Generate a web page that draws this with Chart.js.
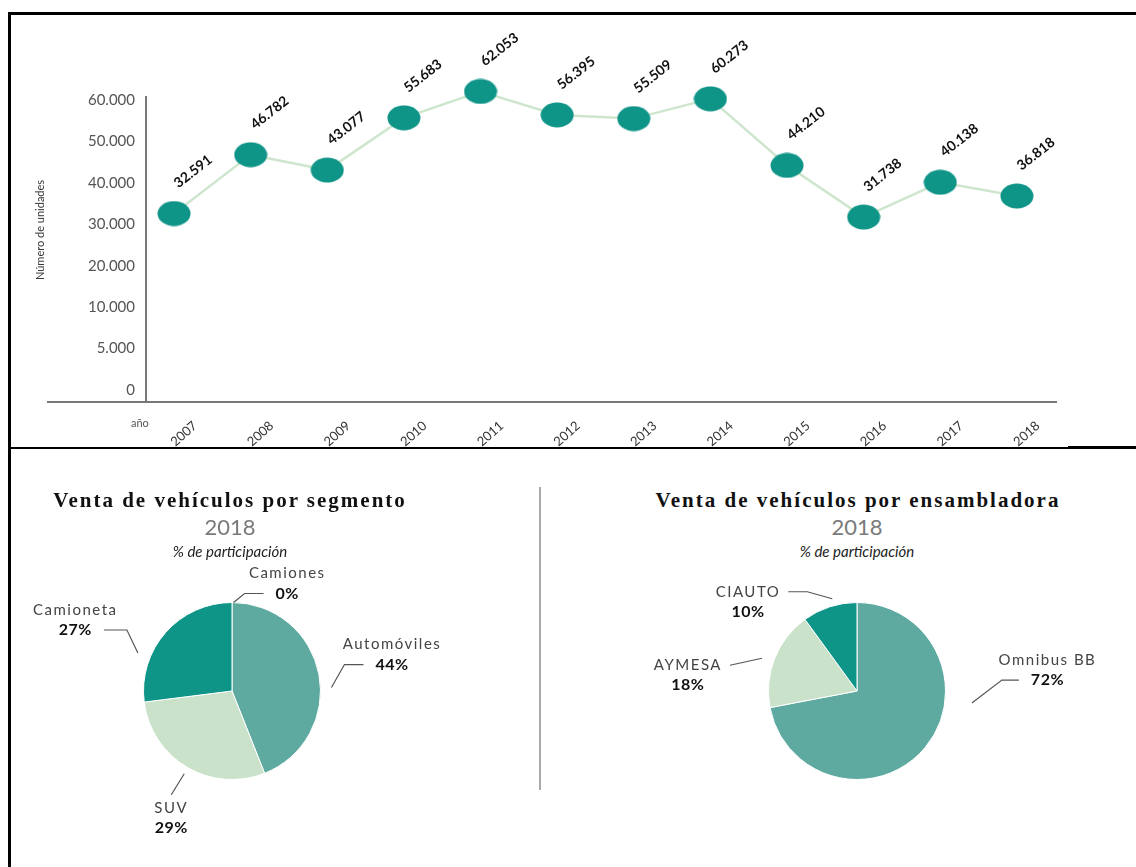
<!DOCTYPE html>
<html lang="es">
<head>
<meta charset="utf-8">
<title>Venta de vehículos</title>
<script src="https://cdn.jsdelivr.net/npm/chart.js@4.4.1/dist/chart.umd.min.js"></script>
<style>
  html, body { margin: 0; padding: 0; background: #fff; }
  body { width: 1136px; height: 867px; position: relative; overflow: hidden; font-family: Lato, sans-serif; }
  canvas { position: absolute; }
  .rule { position: absolute; background: #000; }
  .title { position: absolute; width: 440px; text-align: center; font-family: "Liberation Serif", serif; font-weight: bold; font-size: 21px; letter-spacing: 2px; color: #111; line-height: 24px; }
  .year { position: absolute; width: 440px; text-align: center; font-size: 22px; color: #7a7a7a; line-height: 24px; }
  .sub { position: absolute; width: 440px; text-align: center; font-style: italic; font-size: 15px; color: #222; line-height: 18px; }
  .note { position: absolute; font-size: 11px; color: #555; }
  .ytitle { position: absolute; width: 140px; text-align: center; font-size: 11px; color: #333; line-height: 14px; transform: rotate(-90deg); }
</style>
</head>
<body>
<canvas id="trend" width="1136" height="447" style="left:0;top:0"></canvas>
<canvas id="segment" width="436" height="290" style="left:14px;top:560px"></canvas>
<canvas id="assembler" width="514" height="290" style="left:600px;top:560px"></canvas>

<div class="rule" style="left:8px;top:12px;width:1128px;height:3px"></div>
<div class="rule" style="left:8px;top:12px;width:3px;height:855px"></div>
<div class="rule" style="left:8px;top:447px;width:1060px;height:2px"></div>
<div class="rule" style="left:1068px;top:446px;width:68px;height:3px"></div>
<div class="rule" style="left:539px;top:487px;width:1.5px;height:303px;background:#aaa"></div>

<div class="ytitle" style="left:-30px;top:223px">Número de unidades</div>
<div class="note" style="left:131px;top:416px">año</div>

<div class="title" style="left:10px;top:488px">Venta de vehículos por segmento</div>
<div class="year" style="left:10px;top:515px">2018</div>
<div class="sub" style="left:10px;top:542px">% de participación</div>

<div class="title" style="left:638px;top:488px">Venta de vehículos por ensambladora</div>
<div class="year" style="left:637px;top:515px">2018</div>
<div class="sub" style="left:637px;top:542px">% de participación</div>

<script>
const years = [2007, 2008, 2009, 2010, 2011, 2012, 2013, 2014, 2015, 2016, 2017, 2018];
const units = [32591, 46782, 43077, 55683, 62053, 56395, 55509, 60273, 44210, 31738, 40138, 36818];
const yTickValues = [0, 5000, 10000, 20000, 30000, 40000, 50000, 60000];

const segmentLabels = ['Automóviles', 'SUV', 'Camioneta', 'Camiones'];
const segmentShares = [44, 29, 27, 0];

const assemblerLabels = ['Omnibus BB', 'AYMESA', 'CIAUTO'];
const assemblerShares = [72, 18, 10];

const TEAL = '#0f9488';
const MID = '#5eaaa0';
const LIGHT = '#cae2c9';
const LINE = '#cfe6ce';
const AXIS = '#777';

const fmt = n => String(n).replace(/\B(?=(\d{3})+(?!\d))/g, '.');

// the y axis has evenly spaced ticks that are not evenly spaced in value,
// so values are placed piecewise between neighbouring ticks
function toSlot(v) {
  const t = yTickValues;
  for (let i = 0; i < t.length - 1; i++) {
    if (v <= t[i + 1]) return i + (v - t[i]) / (t[i + 1] - t[i]);
  }
  const n = t.length - 1;
  return n + (v - t[n]) / (t[n] - t[n - 1]);
}

// slightly flattened dots like the original
const dot = document.createElement('canvas');
dot.width = 34; dot.height = 26;
const dctx = dot.getContext('2d');
dctx.fillStyle = TEAL;
dctx.beginPath();
dctx.ellipse(17, 13, 16.5, 12.5, 0, 0, Math.PI * 2);
dctx.fill();

const valueLabels = {
  id: 'valueLabels',
  afterDatasetsDraw(chart) {
    const { ctx } = chart;
    const meta = chart.getDatasetMeta(0);
    ctx.save();
    ctx.font = 'bold 14px Lato';
    ctx.fillStyle = '#111';
    ctx.textAlign = 'center';
    ctx.textBaseline = 'middle';
    meta.data.forEach((pt, i) => {
      ctx.save();
      ctx.translate(pt.x + 19, pt.y - 42);
      ctx.rotate(-38 * Math.PI / 180);
      ctx.fillText(fmt(units[i]), 0, 0);
      ctx.restore();
    });
    ctx.restore();
  }
};

const axisStub = {
  id: 'axisStub',
  afterDraw(chart) {
    const { ctx, chartArea } = chart;
    ctx.save();
    ctx.strokeStyle = AXIS;
    ctx.lineWidth = 2;
    ctx.beginPath();
    ctx.moveTo(47, chartArea.bottom);
    ctx.lineTo(chartArea.left, chartArea.bottom);
    ctx.stroke();
    ctx.restore();
  }
};

new Chart(document.getElementById('trend'), {
  type: 'line',
  data: {
    datasets: [{
      data: years.map((y, i) => ({ x: y, y: toSlot(units[i]) })),
      borderColor: LINE,
      borderWidth: 2.5,
      pointStyle: dot,
      pointRadius: 15,
      pointHoverRadius: 15,
      tension: 0,
      clip: false
    }]
  },
  options: {
    responsive: false,
    animation: false,
    events: [],
    layout: { padding: { top: 97, right: 80, left: 0, bottom: 0 } },
    plugins: { legend: { display: false }, tooltip: { enabled: false } },
    scales: {
      x: {
        type: 'linear',
        min: 2006.634,
        max: 2018.51,
        afterBuildTicks: s => { s.ticks = years.map(v => ({ value: v })); },
        afterFit: s => { s.height = 45; },
        grid: { display: false, drawTicks: false },
        border: { color: AXIS, width: 2 },
        ticks: {
          callback: v => String(v),
          minRotation: 42, maxRotation: 42, autoSkip: false,
          labelOffset: 21, padding: 16,
          font: { family: 'Lato', size: 13 }, color: '#333'
        }
      },
      y: {
        min: -0.29,
        max: 7.072,
        afterBuildTicks: s => { s.ticks = yTickValues.map((_, i) => ({ value: i })); },
        afterFit: s => { s.width = 146; },
        grid: { display: false, drawTicks: false },
        border: { color: AXIS, width: 2 },
        ticks: {
          callback: v => fmt(yTickValues[Math.round(v)]),
          padding: 11,
          font: { family: 'Lato', size: 15 }, color: '#555'
        }
      }
    }
  },
  plugins: [valueLabels, axisStub]
});

// leader lines with name + share next to each slice
const callouts = {
  id: 'callouts',
  afterDraw(chart, args, opts) {
    const { ctx } = chart;
    const meta = chart.getDatasetMeta(0);
    const values = chart.data.datasets[0].data;
    const labels = chart.data.labels;
    ctx.save();
    meta.data.forEach((arc, i) => {
      const c = opts.items[i];
      const a = c.angle * Math.PI / 180;
      const r = arc.outerRadius + c.gap;
      const sx = arc.x + r * Math.sin(a);
      const sy = arc.y - r * Math.cos(a);
      const ex = sx + c.dx, ey = sy + c.dy;
      const fx = ex + c.len;
      ctx.strokeStyle = '#555';
      ctx.lineWidth = 1.2;
      ctx.beginPath();
      ctx.moveTo(sx, sy);
      ctx.lineTo(ex, ey);
      ctx.lineTo(fx, ey);
      ctx.stroke();

      const pct = values[i] + '%';
      ctx.font = 'bold 16px Lato';
      ctx.letterSpacing = '0.5px';
      const pw = ctx.measureText(pct).width;
      ctx.font = '15px Lato';
      ctx.letterSpacing = '1.5px';
      const nw = ctx.measureText(labels[i]).width;
      const side = (c.len || c.dx) < 0 ? -1 : 1;
      let cx, ny, py;
      if (c.anchor === 'pct') { cx = fx + side * (pw / 2 + 12); py = ey; ny = ey - 20; }
      else if (c.anchor === 'name') { cx = fx + side * (nw / 2 + 8); ny = ey; py = ey + 20; }
      else { cx = fx; ny = ey + 13; py = ey + 33; }

      ctx.textAlign = 'center';
      ctx.textBaseline = 'middle';
      ctx.fillStyle = '#444';
      ctx.fillText(labels[i], cx, ny);
      ctx.font = 'bold 16px Lato';
      ctx.letterSpacing = '0.5px';
      ctx.fillStyle = '#111';
      ctx.fillText(pct, cx, py);
    });
    ctx.restore();
  }
};

function makePie(id, labels, values, colors, items, padding) {
  return new Chart(document.getElementById(id), {
    type: 'pie',
    data: {
      labels,
      datasets: [{ data: values, backgroundColor: colors, borderColor: '#fff', borderWidth: 1 }]
    },
    options: {
      responsive: false,
      animation: false,
      events: [],
      layout: { padding },
      plugins: { legend: { display: false }, tooltip: { enabled: false }, callouts: { items } }
    },
    plugins: [callouts]
  });
}

makePie('segment', segmentLabels, segmentShares, [MID, LIGHT, TEAL, TEAL], [
  { angle: 88, gap: 11, dx: 13, dy: -23, len: 19, anchor: 'pct' },
  { angle: 210, gap: 7, dx: -13, dy: 21, len: 0, anchor: 'below' },
  { angle: 292, gap: 13, dx: -11, dy: -23, len: -23, anchor: 'pct' },
  { angle: 1, gap: 0, dx: 11, dy: -9, len: 19, anchor: 'pct' }
], { left: 42, right: 42, top: 42, bottom: 70 });

makePie('assembler', assemblerLabels, assemblerShares, [MID, LIGHT, TEAL], [
  { angle: 96, gap: 27, dx: 30, dy: -23, len: 17, anchor: 'pct' },
  { angle: 289, gap: 12, dx: -32, dy: 7, len: 0, anchor: 'name' },
  { angle: 345, gap: 7, dx: -25, dy: -7, len: -19, anchor: 'name' }
], { left: 81, right: 81, top: 42, bottom: 70 });
</script>
</body>
</html>
